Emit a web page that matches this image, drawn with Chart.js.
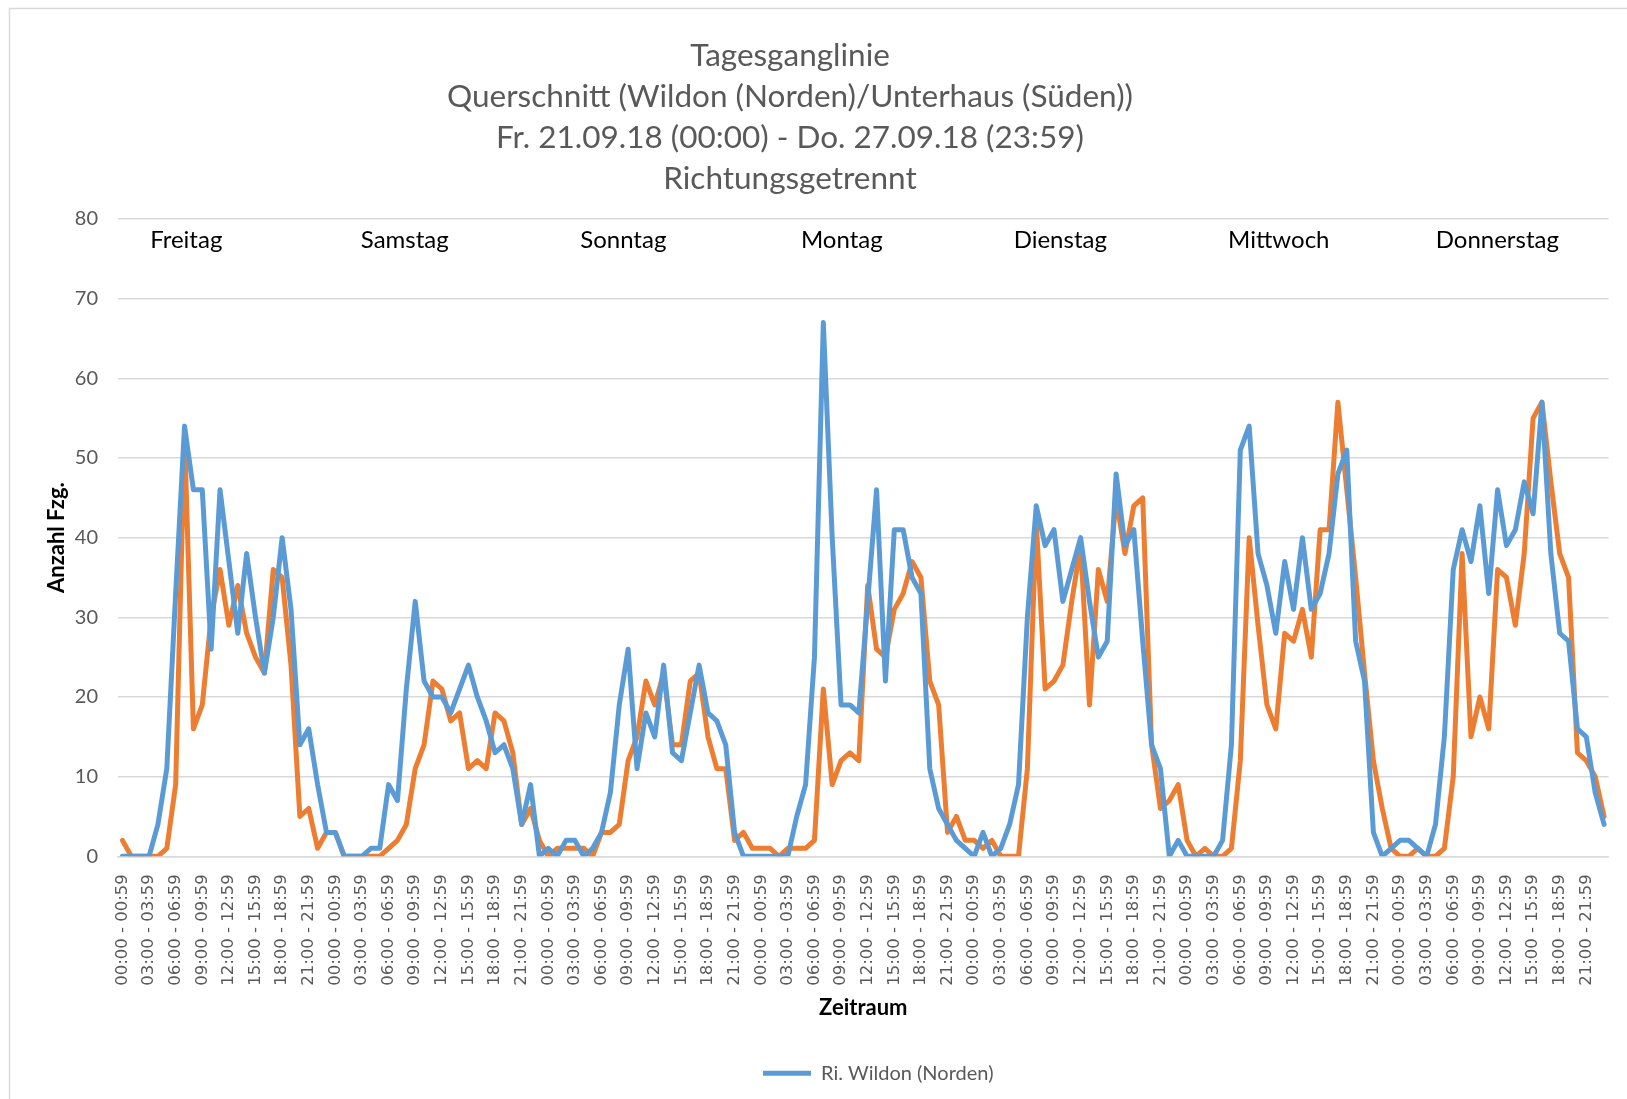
<!DOCTYPE html>
<html>
<head>
<meta charset="utf-8">
<title>Tagesganglinie</title>
<script src="https://cdn.jsdelivr.net/npm/chart.js@4/dist/chart.umd.min.js"></script>
<style>
	html, body { margin: 0; padding: 0; background: #fff; }
	#wrap { width: 1627px; height: 1099px; position: relative; }
</style>
</head>
<body>
<div id="wrap"><canvas id="canvas"></canvas></div>
<script>
// Stunden und Wochentage
var hours = [ '00', '01', '02', '03', '04', '05', '06', '07', '08', '09', '10', '11',
		'12', '13', '14', '15', '16', '17', '18', '19', '20', '21', '22', '23' ];
var days = [ 'Freitag', 'Samstag', 'Sonntag', 'Montag', 'Dienstag', 'Mittwoch', 'Donnerstag' ];

var titleLines = [ 'Tagesganglinie', 'Querschnitt (Wildon (Norden)/Unterhaus (Süden))',
		'Fr. 21.09.18 (00:00) - Do. 27.09.18 (23:59)', 'Richtungsgetrennt' ];

// Ri. Wildon (Norden), Fr - Do, je 24 Stundenwerte
var wildon = [
	0, 0, 0, 0, 4, 11, 33, 54, 46, 46, 26, 46, 37, 28, 38, 30, 23, 30, 40, 31, 14, 16, 9, 3,
	3, 0, 0, 0, 1, 1, 9, 7, 21, 32, 22, 20, 20, 18, 21, 24, 20, 17, 13, 14, 11, 4, 9, 0,
	1, 0, 2, 2, 0, 1, 3, 8, 19, 26, 11, 18, 15, 24, 13, 12, 18, 24, 18, 17, 14, 3, 0, 0,
	0, 0, 0, 0, 5, 9, 25, 67, 40, 19, 19, 18, 32, 46, 22, 41, 41, 35, 33, 11, 6, 4, 2, 1,
	0, 3, 0, 1, 4, 9, 30, 44, 39, 41, 32, 36, 40, 32, 25, 27, 48, 39, 41, 27, 14, 11, 0, 2,
	0, 0, 0, 0, 2, 14, 51, 54, 38, 34, 28, 37, 31, 40, 31, 33, 38, 48, 51, 27, 22, 3, 0, 1,
	2, 2, 1, 0, 4, 15, 36, 41, 37, 44, 33, 46, 39, 41, 47, 43, 57, 38, 28, 27, 16, 15, 8, 4 ];

// Ri. Unterhaus (Süden)
var unterhaus = [
	2, 0, 0, 0, 0, 1, 9, 53, 16, 19, 30, 36, 29, 34, 28, 25, 23, 36, 35, 24, 5, 6, 1, 3,
	3, 0, 0, 0, 0, 0, 1, 2, 4, 11, 14, 22, 21, 17, 18, 11, 12, 11, 18, 17, 13, 4, 6, 2,
	0, 1, 1, 1, 1, 0, 3, 3, 4, 12, 15, 22, 19, 23, 14, 14, 22, 23, 15, 11, 11, 2, 3, 1,
	1, 1, 0, 1, 1, 1, 2, 21, 9, 12, 13, 12, 34, 26, 25, 31, 33, 37, 35, 22, 19, 3, 5, 2,
	2, 1, 2, 0, 0, 0, 11, 42, 21, 22, 24, 32, 39, 19, 36, 32, 45, 38, 44, 45, 14, 6, 7, 9,
	2, 0, 1, 0, 0, 1, 12, 40, 29, 19, 16, 28, 27, 31, 25, 41, 41, 57, 46, 35, 23, 12, 6, 1,
	0, 0, 1, 0, 0, 1, 10, 38, 15, 20, 16, 36, 35, 29, 38, 55, 57, 47, 38, 35, 13, 12, 10, 5 ];

var yTicks = [ 0, 10, 20, 30, 40, 50, 60, 70, 80 ];

var labels = [];
days.forEach(function() {
	hours.forEach(function(h) {
		labels.push(h + ':00 - ' + h + ':59');
	});
});

var GREY = '#595959';
var GRID = '#d9d9d9';
var FONT = 'Lato, "Open Sans", sans-serif';

// Rahmen, Titel und Wochentage
var decor = {
	id : 'decor',
	afterLayout : function(chart) {
		// Legende etwas nach rechts, wie im Original
		chart.legend.left += 15;
		chart.legend.right += 15;
	},
	beforeDraw : function(chart) {
		var ctx = chart.ctx;
		ctx.save();
		ctx.fillStyle = '#fff';
		ctx.fillRect(0, 0, chart.width, chart.height);
		ctx.strokeStyle = GRID;
		ctx.lineWidth = 1.5;
		ctx.beginPath();
		ctx.moveTo(9.5, chart.height);
		ctx.lineTo(9.5, 8.5);
		ctx.lineTo(chart.width, 8.5);
		ctx.stroke();
		ctx.restore();
	},
	afterDraw : function(chart) {
		var ctx = chart.ctx;
		var area = chart.chartArea;
		ctx.save();
		ctx.textAlign = 'center';
		ctx.textBaseline = 'middle';
		ctx.fillStyle = GREY;
		ctx.font = '31.5px ' + FONT;
		titleLines.forEach(function(t, i) {
			ctx.fillText(t, 790, 56 + i * 41);
		});
		ctx.fillStyle = '#000';
		ctx.font = '24px ' + FONT;
		var w = area.right - area.left;
		days.forEach(function(d, i) {
			ctx.fillText(d, area.left + w * (0.0458 + i * 0.1466), 240);
		});
		ctx.restore();
	}
};

var config = {
	type : 'line',
	data : {
		labels : labels,
		datasets : [ {
			label : 'Ri. Wildon (Norden)',
			data : wildon,
			borderColor : '#5b9bd5',
			backgroundColor : '#5b9bd5',
			borderWidth : 5
		}, {
			label : 'Ri. Unterhaus (Süden)',
			data : unterhaus,
			borderColor : '#ed7d31',
			backgroundColor : '#ed7d31',
			borderWidth : 5
		} ]
	},
	options : {
		responsive : true,
		maintainAspectRatio : false,
		animation : false,
		layout : {
			padding : { left : 0, right : 18.5, top : 219, bottom : 5.7 }
		},
		elements : {
			line : { tension : 0, borderJoinStyle : 'round', borderCapStyle : 'round' },
			point : { radius : 0, hoverRadius : 0 }
		},
		plugins : {
			title : { display : false },
			tooltip : { enabled : false },
			legend : {
				position : 'bottom',
				fullSize : false,
				labels : {
					usePointStyle : true,
					pointStyle : 'line',
					pointStyleWidth : 48,
					color : GREY,
					font : { family : FONT, size : 20 },
					padding : 10,
					filter : function(item) {
						return item.datasetIndex === 0;
					}
				}
			}
		},
		scales : {
			x : {
				offset : true,
				grid : { display : false },
				border : { display : true, color : GRID, width : 1.5 },
				ticks : {
					autoSkip : false,
					minRotation : 90,
					maxRotation : 90,
					padding : 10,
					color : GREY,
					font : { family : '"DejaVu Sans"', size : 16.5 },
					callback : function(v, i) {
						return i % 3 === 0 ? labels[i] : '';
					}
				},
				title : {
					display : true,
					text : 'Zeitraum',
					color : '#000',
					font : { family : FONT, size : 22, weight : 'bold' },
					padding : { top : 0, bottom : 32 }
				},
				afterFit : function(s) {
					s.height = 197;
					s.paddingLeft = 0;
					s.paddingRight = 0;
				}
			},
			y : {
				min : 0,
				max : 80,
				afterBuildTicks : function(s) {
					s.ticks = yTicks.map(function(v) {
						return { value : v };
					});
				},
				grid : { color : GRID, lineWidth : 1.5, drawTicks : false },
				border : { display : false },
				ticks : {
					padding : 20,
					color : GREY,
					font : { family : FONT, size : 20 }
				},
				title : {
					display : true,
					text : 'Anzahl Fzg.',
					color : '#000',
					font : { family : FONT, size : 22, weight : 'bold' },
					padding : { top : 44, bottom : 0 }
				},
				afterFit : function(s) {
					s.width = 118;
				}
			}
		}
	},
	plugins : [ decor ]
};

window.onload = function() {
	var ctx = document.getElementById('canvas').getContext('2d');
	window.myLine = new Chart(ctx, config);
};
</script>
</body>
</html>
